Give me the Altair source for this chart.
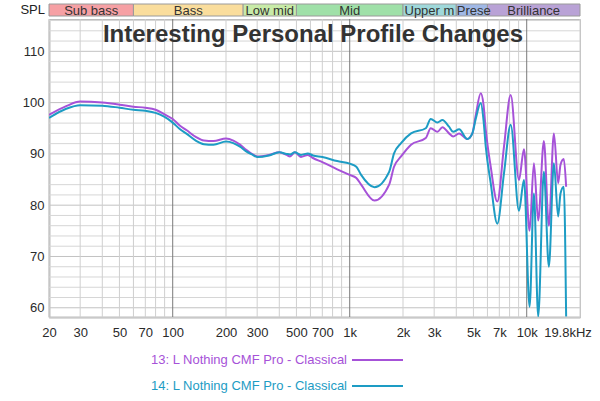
import altair as alt
import pandas as pd

# ---------------- data ----------------
freq = [20, 25, 30, 40, 50, 60, 70, 80, 90, 100, 110, 120, 135, 150, 170, 200, 220, 240,
        260, 280, 300, 350, 400, 440, 460, 490, 530, 580, 620, 700, 850, 1000, 1090, 1160,
        1380, 1670, 1780, 1950, 2220, 2690, 2870, 3130, 3340, 3640, 3840, 4150, 4620, 4930,
        5150, 5500, 5700, 5870, 6260, 6820, 7440, 8120, 9040, 9650, 10380, 10980, 11610,
        12500, 13340, 14240, 15050, 15520, 16200, 16700]
spl_13 = [97.6, 99.3, 100.2, 100.0, 99.6, 99.2, 99.0, 98.6, 97.7, 96.8, 95.5, 94.6, 93.3,
          92.6, 92.5, 93.0, 92.6, 91.8, 90.8, 90.0, 89.5, 89.8, 90.3, 89.8, 89.5, 90.3, 89.4,
          89.8, 89.2, 88.4, 87.0, 85.9, 85.3, 84.0, 80.9, 84.0, 87.5, 89.5, 91.8, 93.1, 95.0,
          94.3, 95.2, 94.0, 93.4, 94.0, 92.9, 94.0, 97.5, 101.8, 99.6, 94.7, 87.5, 80.7, 91.4,
          101.5, 84.9, 90.9, 75.0, 88.2, 77.0, 92.5, 76.0, 94.0, 84.3, 87.9, 89.0, 83.6]
spl_14 = [97.0, 98.8, 99.5, 99.4, 99.0, 98.6, 98.4, 98.0, 97.2, 96.1, 94.8, 93.9, 92.6,
          91.9, 91.8, 92.4, 92.1, 91.4, 90.5, 89.9, 89.4, 89.7, 90.3, 90.0, 89.9, 90.3, 89.8,
          90.1, 89.7, 89.4, 88.6, 88.1, 87.5, 85.9, 83.5, 86.5, 90.1, 92.1, 94.0, 95.0, 96.8,
          96.1, 96.6, 95.3, 94.3, 94.8, 92.9, 94.0, 96.8, 99.9, 96.6, 91.4, 84.3, 76.4, 86.2,
          95.7, 78.9, 84.9, 60.2, 82.3, 58.3, 86.5, 68.0, 88.2, 77.8, 82.3, 83.6, 58.3]
series_names = ["13: L Nothing CMF Pro - Classical", "14: L Nothing CMF Pro - Classical"]
series_colors = ["#a652d8", "#1d9cc4"]

band_names = ["Sub bass", "Bass", "Low mid", "Mid", "Upper mid", "Presence", "Brilliance"]
band_lo = [20, 60, 250, 500, 2000, 4000, 6000]
band_hi = [60, 250, 500, 2000, 4000, 6000, 20000]
band_colors = ["#f6a0a4", "#fadd9c", "#c8eba8", "#9fe0a8", "#9fd8da", "#a0b8e6", "#b9a2d6"]

x_ticks = [20, 30, 50, 70, 100, 200, 300, 500, 700, 1000, 2000, 3000, 5000, 7000, 10000]
x_tick_labels = ["20", "30", "50", "70", "100", "200", "300", "500", "700", "1k", "2k",
                 "3k", "5k", "7k", "10k"]
x_end_label = "19.8kHz"
y_ticks = [60, 70, 80, 90, 100, 110]
y_label = "SPL"
title_text = "Interesting Personal Profile Changes"

grid_x_minor = [20, 30, 40, 50, 60, 70, 80, 90, 200, 300, 400, 500, 600, 700, 800, 900,
                2000, 3000, 4000, 5000, 6000, 7000, 8000, 9000, 20000]
grid_x_major = [100, 1000, 10000]
grid_y_minor = [58, 62, 64, 66, 68, 72, 74, 76, 78, 82, 84, 86, 88, 92, 94, 96, 98,
                102, 104, 106, 108, 112, 114, 116]
grid_y_major = [60, 70, 80, 90, 100, 110]

# ---------------- tables ----------------
FONT = "Liberation Sans"
W, H = 531, 298

curve = pd.DataFrame({
    "freq": freq * 2,
    "spl": spl_13 + spl_14,
    "series": [series_names[0]] * len(freq) + [series_names[1]] * len(freq),
    "order": [0] * len(freq) + [1] * len(freq),
})
bands = pd.DataFrame({"name": band_names, "lo": band_lo, "hi": band_hi, "color": band_colors})

xs = alt.Scale(type="log", domain=[20, 20000], nice=False)
ys = alt.Scale(domain=[58.2, 116.3], nice=False, zero=False)

label_map = "{" + ",".join(f"'{v}':'{t}'" for v, t in zip(x_ticks, x_tick_labels)) + "}"

xaxis = alt.Axis(values=x_ticks, labelExpr=f"{label_map}[datum.value]",
                 ticks=False, grid=False, domain=True, domainColor="#bdbdbd",
                 domainWidth=2, labelPadding=9, labelFont=FONT, labelFontSize=13,
                 labelColor="#2a2a2a", labelFlush=False, labelOverlap=False, title=None)
yaxis = alt.Axis(values=y_ticks, ticks=False, grid=False, domain=True,
                 domainColor="#bdbdbd", domainWidth=2, labelPadding=5,
                 labelFont=FONT, labelFontSize=13, labelColor="#2a2a2a", title=None)

vminor = alt.Chart(pd.DataFrame({"f": grid_x_minor})).mark_rule(color="#cfcfcf", strokeWidth=1).encode(
    x=alt.X("f:Q", scale=xs, axis=xaxis, title=None))
vmajor = alt.Chart(pd.DataFrame({"f": grid_x_major})).mark_rule(color="#7a7a7a", strokeWidth=1).encode(
    x=alt.X("f:Q", scale=xs, axis=xaxis, title=None))
hminor = alt.Chart(pd.DataFrame({"v": grid_y_minor})).mark_rule(color="#d6d6d6", strokeWidth=1).encode(
    y=alt.Y("v:Q", scale=ys, axis=yaxis, title=None))
hmajor = alt.Chart(pd.DataFrame({"v": grid_y_major})).mark_rule(color="#c2c2c2", strokeWidth=1).encode(
    y=alt.Y("v:Q", scale=ys, axis=yaxis, title=None))

lines = alt.Chart(curve).mark_line(strokeWidth=2, interpolate="monotone", clip=True).encode(
    x=alt.X("freq:Q", scale=xs, title=None, axis=xaxis),
    y=alt.Y("spl:Q", scale=ys, title=None, axis=yaxis),
    color=alt.Color("series:N", scale=alt.Scale(domain=series_names, range=series_colors),
                    legend=None),
    detail="series:N",
    order=alt.Order("order:Q"),
)

band_rect = alt.Chart(bands).mark_rect(stroke="#9a9a9a", strokeWidth=1).encode(
    x=alt.X("lo:Q", scale=xs, axis=xaxis, title=None), x2="hi:Q",
    y=alt.value(-15), y2=alt.value(-3),
    fill=alt.Color("color:N", scale=None),
)
wide = bands[bands["name"].isin(["Sub bass", "Bass", "Low mid", "Mid", "Brilliance"])].copy()
band_text = alt.Chart(wide).transform_calculate(mid="sqrt(datum.lo*datum.hi)").mark_text(
    font=FONT, fontSize=13, color="#333333", baseline="middle", align="center").encode(
    x=alt.X("mid:Q", scale=xs, axis=xaxis, title=None), y=alt.value(-8.5), text="name:N")
upper = alt.Chart(bands[bands["name"] == "Upper mid"]).mark_text(
    font=FONT, fontSize=13, color="#333333", baseline="middle", align="left", dx=1.5,
    limit=52, ellipsis="\u200b").encode(
    x=alt.X("lo:Q", scale=xs, axis=xaxis, title=None), y=alt.value(-8.5), text="name:N")
pres = alt.Chart(bands[bands["name"] == "Presence"]).mark_text(
    font=FONT, fontSize=13, color="#333333", baseline="middle", align="left", dx=0.5,
    limit=35, ellipsis="\u200b").encode(
    x=alt.X("lo:Q", scale=xs, axis=xaxis, title=None), y=alt.value(-8.5), text="name:N")

spl_txt = alt.Chart(pd.DataFrame({"t": [y_label]})).mark_text(
    font=FONT, fontSize=13, color="#222222", align="right", baseline="middle").encode(
    x=alt.value(-4), y=alt.value(-9.5), text="t:N")

title = alt.Chart(pd.DataFrame({"t": [title_text]})).mark_text(
    font=FONT, fontSize=24, fontWeight="bold", color="#333333", align="center",
    baseline="alphabetic").encode(x=alt.value(264), y=alt.value(23), text="t:N")

end_lbl = alt.Chart(pd.DataFrame({"t": [x_end_label]})).mark_text(
    font=FONT, fontSize=13, color="#2a2a2a", align="center", baseline="middle").encode(
    x=alt.value(519), y=alt.value(H + 16), text="t:N")

legend_layers = []
for i, (nm, col) in enumerate(zip(series_names, series_colors)):
    ly = 341 + i * 26
    d = pd.DataFrame({"t": [nm]})
    legend_layers.append(alt.Chart(d).mark_text(
        font=FONT, fontSize=13, color=col, align="right", baseline="middle").encode(
        x=alt.value(298), y=alt.value(ly), text="t:N"))
    legend_layers.append(alt.Chart(d).mark_rule(color=col, strokeWidth=2).encode(
        x=alt.value(303), x2=alt.value(354), y=alt.value(ly)))

chart = alt.layer(
    hminor, hmajor, vminor, vmajor, lines, band_rect, band_text, upper, pres, spl_txt,
    title, end_lbl, *legend_layers
).properties(
    width=W, height=H,
    autosize=alt.AutoSizeParams(type="none"),
    padding={"left": 49, "top": 19, "right": 20, "bottom": 84},
    background="white",
).configure_view(stroke="#bdbdbd", strokeWidth=1)

chart.save("out.html", embed_options={"renderer": "svg", "actions": False})
